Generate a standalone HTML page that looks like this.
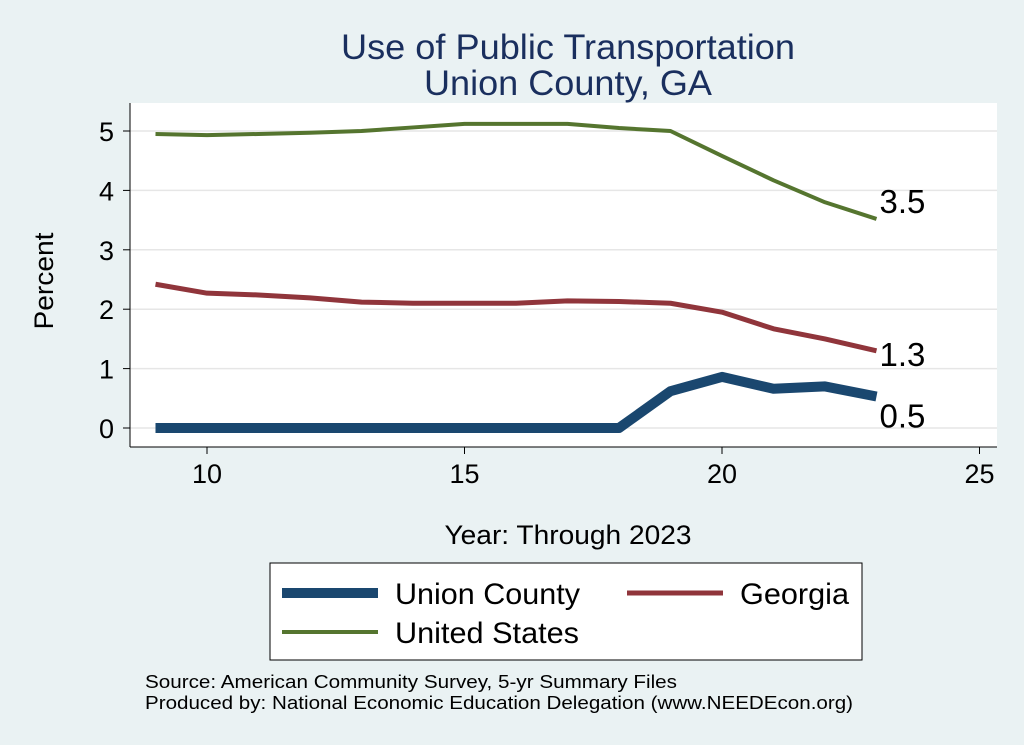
<!DOCTYPE html>
<html><head><meta charset="utf-8"><style>
body{margin:0;background:#eaf2f3;}
svg{display:block;font-family:"Liberation Sans",Arial,sans-serif;}
</style></head><body>
<svg width="1024" height="745">
<rect x="0" y="0" width="1024" height="745" fill="#eaf2f3"/>
<rect x="130" y="103" width="867" height="344" fill="#fff"/>
<text x="568" y="59" text-anchor="middle" font-size="35" textLength="454" lengthAdjust="spacingAndGlyphs" fill="#1a2f5e">Use of Public Transportation</text>
<text x="568" y="95" text-anchor="middle" font-size="35" textLength="288" lengthAdjust="spacingAndGlyphs" fill="#1a2f5e">Union County, GA</text>
<g id="grid"></g><g id="axes"></g><g id="series"></g>
<text x="53" y="281" text-anchor="middle" font-size="27" textLength="97" lengthAdjust="spacingAndGlyphs" transform="rotate(-90 53 281)">Percent</text>
<text x="568" y="544" text-anchor="middle" font-size="27" textLength="247" lengthAdjust="spacingAndGlyphs">Year: Through 2023</text>
<g>
<rect x="270" y="563" width="592" height="97" fill="#fff" stroke="#000" stroke-width="1"/>
<line x1="282" y1="593" x2="378" y2="593" stroke="#1a476f" stroke-width="10"/>
<text x="395" y="604" font-size="30" textLength="185" lengthAdjust="spacingAndGlyphs">Union County</text>
<line x1="627" y1="593" x2="723" y2="593" stroke="#90353b" stroke-width="5"/>
<text x="740" y="604" font-size="30" textLength="109" lengthAdjust="spacingAndGlyphs">Georgia</text>
<line x1="282" y1="632" x2="378" y2="632" stroke="#55752f" stroke-width="4"/>
<text x="395" y="643" font-size="30" textLength="184" lengthAdjust="spacingAndGlyphs">United States</text>
</g>
<text x="145" y="688" font-size="18" textLength="532" lengthAdjust="spacingAndGlyphs">Source: American Community Survey, 5-yr Summary Files</text>
<text x="145" y="709" font-size="18" textLength="708" lengthAdjust="spacingAndGlyphs">Produced by: National Economic Education Delegation (www.NEEDEcon.org)</text>
</svg>
<script>
const years=[9,10,11,12,13,14,15,16,17,18,19,20,21,22,23];
const usVals=[4.95,4.93,4.95,4.97,5.0,5.06,5.12,5.12,5.12,5.05,5.0,4.58,4.17,3.8,3.52];
const gaVals=[2.42,2.27,2.24,2.19,2.12,2.1,2.1,2.1,2.14,2.13,2.1,1.95,1.67,1.5,1.3];
const unionVals=[0,0,0,0,0,0,0,0,0,0,0.62,0.86,0.66,0.7,0.53];
const yTicks=[0,1,2,3,4,5];
const xTicks=[10,15,20,25];
const endLabels=["3.5","1.3","0.5"];
const NS="http://www.w3.org/2000/svg";
const xs=v=>207+(v-10)*51.5;
const ys=v=>428-v*59.4;
function mk(t,a,p){const e=document.createElementNS(NS,t);for(const k in a)e.setAttribute(k,a[k]);p.appendChild(e);return e;}
const grid=document.getElementById('grid'),axes=document.getElementById('axes'),ser=document.getElementById('series');
yTicks.forEach(t=>{
 const g=mk('line',{x1:130,x2:997,y1:ys(t),y2:ys(t),stroke:'#e6e6e6','stroke-width':1.5},grid);
 
 
 mk('line',{x1:123,x2:130,y1:ys(t),y2:ys(t),stroke:'#000'},axes);
 const l=mk('text',{x:114,y:ys(t)+10,'text-anchor':'end','font-size':27},axes);l.textContent=t;
 
 
});
xTicks.forEach(t=>{
 mk('line',{x1:xs(t),x2:xs(t),y1:447,y2:454,stroke:'#000'},axes);
 const l=mk('text',{x:xs(t),y:483,'text-anchor':'middle','font-size':27},axes);l.textContent=t;
 
 
});
mk('line',{x1:130,x2:130,y1:103,y2:447,stroke:'#000'},axes);
mk('line',{x1:130,x2:997,y1:447,y2:447,stroke:'#000'},axes);
[[usVals,'#55752f',4,'us-line'],[gaVals,'#90353b',5,'georgia-line'],[unionVals,'#1a476f',10,'union-line']].forEach((s,i)=>{
 const p=mk('polyline',{points:years.map((y,j)=>xs(y)+','+ys(s[0][j])).join(' '),fill:'none',stroke:s[1],'stroke-width':s[2],'stroke-linejoin':'round'},ser);
 
 
 const last=s[0][s[0].length-1];
 const t=mk('text',{x:xs(23)+3,y:ys(last)+(i==2?37:0)+(i==1?15:-6),'font-size':33},ser);
 t.textContent=endLabels[i];
 
 
});
</script>
</body></html>
